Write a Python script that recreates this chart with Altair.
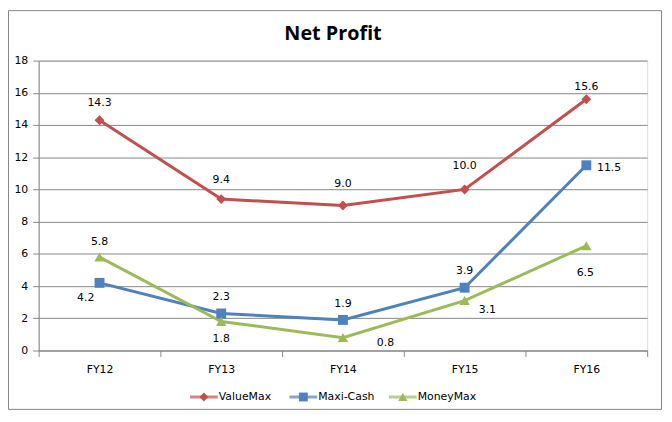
import altair as alt
import pandas as pd

# ---- data ----
categories = ["FY12", "FY13", "FY14", "FY15", "FY16"]
series_names = ["ValueMax", "Maxi-Cash", "MoneyMax"]
valuemax = [14.3, 9.4, 9.0, 10.0, 15.6]
maxicash = [4.2, 2.3, 1.9, 3.9, 11.5]
moneymax = [5.8, 1.8, 0.8, 3.1, 6.5]

values = {"ValueMax": valuemax, "Maxi-Cash": maxicash, "MoneyMax": moneymax}
rows = []
for s in series_names:
    for c, v in zip(categories, values[s]):
        rows.append({"series": s, "cat": c, "value": v})
df = pd.DataFrame(rows)
legend_df = pd.DataFrame({"series": series_names})

# ---- styles ----
colors = ["#C0504D", "#4F81BD", "#9BBB59"]
shapes = ["diamond", "square", "triangle-up"]
sizes = {"ValueMax": 100, "Maxi-Cash": 100, "MoneyMax": 110}
FONT = "DejaVu Sans"
GRAY = "#868686"

# label offsets (dx, dy) from each point, as placed in the reference
label_offsets = {
    "ValueMax": [(0, -17), (0, -19), (0, -22), (0, -24), (0, -12)],
    "Maxi-Cash": [(-14, 15), (0, -17), (0, -16), (0, -17), (23, 3)],
    "MoneyMax": [(0, -15), (0, 18), (43, 5), (23, 10), (-1, 28)],
}

color_scale = alt.Scale(domain=series_names, range=colors)
shape_scale = alt.Scale(domain=series_names, range=shapes)

x_enc = alt.X("cat:N", sort=categories,
              scale=alt.Scale(type="band", domain=categories, paddingInner=0, paddingOuter=0),
              axis=alt.Axis(title=None, labelAngle=0, tickBand="extent", grid=False,
                            domainColor=GRAY, tickColor=GRAY, tickSize=6, labelPadding=7,
                            labelFont=FONT, labelFontSize=11, labelColor="black"))
y_enc = alt.Y("value:Q", scale=alt.Scale(domain=[0, 18], nice=False, zero=True),
              axis=alt.Axis(title=None, values=list(range(0, 19, 2)), grid=True,
                            gridColor=GRAY, domainColor=GRAY, tickColor=GRAY, tickSize=6,
                            labelPadding=5, labelFont=FONT, labelFontSize=11,
                            labelColor="black"))

base = alt.Chart(df)

lines = base.mark_line(strokeWidth=3).encode(
    x=x_enc, y=y_enc,
    color=alt.Color("series:N", scale=color_scale, legend=None),
    detail="series:N",
)

point_layers = []
for s in series_names:
    point_layers.append(
        base.transform_filter(alt.datum.series == s).mark_point(
            filled=True, opacity=1, size=sizes[s]
        ).encode(
            x=x_enc, y=y_enc,
            color=alt.Color("series:N", scale=color_scale, legend=None),
            shape=alt.Shape("series:N", scale=shape_scale, legend=None),
        )
    )

text_layers = []
for s in series_names:
    for c, (dx, dy) in zip(categories, label_offsets[s]):
        text_layers.append(
            base.transform_filter((alt.datum.series == s) & (alt.datum.cat == c)).mark_text(
                dx=dx, dy=dy, font=FONT, fontSize=11, color="black",
                align="center", baseline="middle"
            ).encode(x=x_enc, y=y_enc, text=alt.Text("value:Q", format=".1f"))
        )

main = alt.layer(lines, *point_layers, *text_layers)

# ---- manual legend below the plot ----
lx = alt.X("series:N", sort=series_names,
           scale=alt.Scale(type="point", domain=series_names, range=[167, 368], padding=0),
           axis=None)
leg_base = alt.Chart(legend_df)
leg_line = leg_base.mark_tick(orient="horizontal", size=28, thickness=3).encode(
    x=lx, y=alt.value(340),
    color=alt.Color("series:N", scale=color_scale, legend=None),
)
leg_pts = []
for s in series_names:
    leg_pts.append(
        leg_base.transform_filter(alt.datum.series == s).mark_point(
            filled=True, opacity=1, size=sizes[s] * 0.8
        ).encode(
            x=lx, y=alt.value(340),
            color=alt.Color("series:N", scale=color_scale, legend=None),
            shape=alt.Shape("series:N", scale=shape_scale, legend=None),
        )
    )
leg_text = leg_base.mark_text(align="left", baseline="middle", dx=15, font=FONT,
                              fontSize=11, color="black").encode(
    x=lx, y=alt.value(340), text="series:N"
)
legend = alt.layer(leg_line, *leg_pts, leg_text)

border = alt.Chart(pd.DataFrame({"a": [0]})).mark_rect(
    fill=None, stroke=GRAY, strokeWidth=1
).encode(x=alt.value(-30.5), x2=alt.value(629.5), y=alt.value(-50.5), y2=alt.value(352.5))

chart = alt.layer(border, main, legend).resolve_scale(x="independent").properties(
    width=615, height=293,
    autosize="none",
    padding={"left": 31, "top": 51, "right": 17, "bottom": 60},
    title=alt.TitleParams("Net Profit", font="Open Sans", fontSize=20, fontWeight="bold",
                          color="black", anchor="middle", frame="group", dx=-10,
                          offset=-34),
).configure_view(stroke=None).configure(background="white")

chart.save("out.html", embed_options={"renderer": "svg", "actions": False})
